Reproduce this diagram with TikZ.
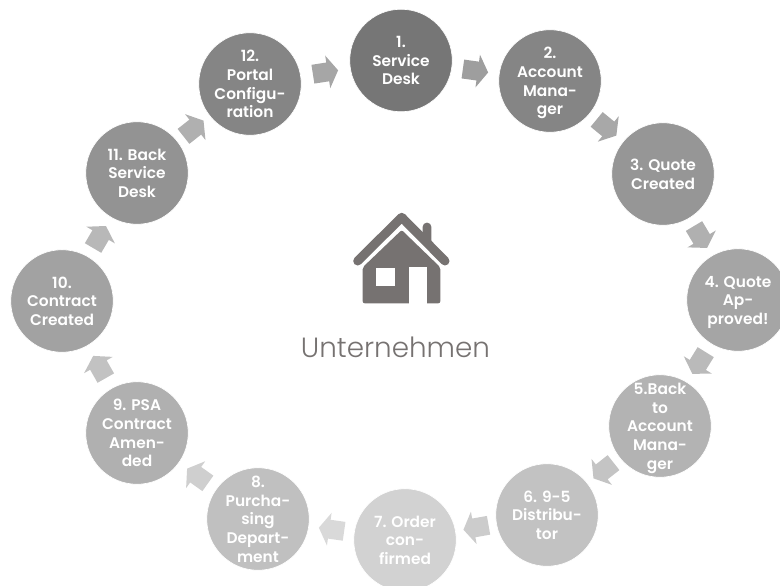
\documentclass[tikz,border=0pt]{standalone}
\usepackage{fontspec}
\usetikzlibrary{calc}
\newfontfamily\labelfont{Poppins SemiBold}
\newfontfamily\titlefont{Poppins Light}
\definecolor{house}{HTML}{767271}
\tikzset{
  stepcircle/.style={circle,draw=white,line width=0.6pt,minimum size=102.5pt,inner sep=0pt},
  steplabel/.style={inner sep=0pt,text=white,align=center,yshift=-2pt,font=\labelfont\fontsize{15.4}{18.7}\selectfont}
}
\newcommand{\stepnode}[4]{%
  \node[stepcircle,fill={rgb,255:red,#3;green,#3;blue,#3}] (n#1) at (#2) {};
  \node[steplabel] (l#1) at (n#1.center) {\strut #4\strut};}
\newcommand{\flowarrow}[3]{%
  \coordinate (m) at ($(#1)!0.5!(#2)$);
  \coordinate (t) at ($(m)!-12.75pt!(#2)$);
  \coordinate (s) at ($(m)!2.25pt!(#2)$);
  \coordinate (p) at ($(m)!12.75pt!(#2)$);
  \fill[#3] ($(t)!9.5pt!90:(#2)$) -- ($(s)!9.5pt!90:(#2)$) -- ($(s)!16.5pt!90:(#2)$) -- (p)
    -- ($(s)!16.5pt!-90:(#2)$) -- ($(s)!9.5pt!-90:(#2)$) -- ($(t)!9.5pt!-90:(#2)$) -- cycle;}
\begin{document}
\begin{tikzpicture}[x=1pt,y=-1pt]
\useasboundingbox (0,0) rectangle (780,586);
\clip (0,0) rectangle (780,586);
\stepnode{1}{401,60.5}{118}{1.\\Service\\Desk}
\stepnode{2}{550,81}{133}{2.\\Account\\Mana-\\ger}
\stepnode{3}{663,174}{150}{3. Quote\\Created}
\stepnode{4}{738,300}{165}{4. Quote\\Ap-\\proved!}
\stepnode{5}{660,426}{179}{5.Back\\to\\Account\\Mana-\\ger}
\stepnode{6}{547,515}{194}{6. 9-5\\Distribu-\\tor}
\stepnode{7}{405,540}{210}{7. Order\\con-\\firmed}
\stepnode{8}{258,519}{192}{8.\\Purcha-\\sing\\Depart-\\ment}
\stepnode{9}{137,433}{176}{9. PSA\\Contract\\Amen-\\ded}
\stepnode{10}{62,301}{162}{10.\\Contract\\Created}
\stepnode{11}{137,173}{147}{11. Back\\Service\\Desk}
\stepnode{12}{250,84}{133}{12.\\Portal\\Configu-\\ration}
\definecolor{a1}{gray}{0.62}\definecolor{a2}{gray}{0.66}\definecolor{a3}{gray}{0.69}
\definecolor{a4}{gray}{0.73}\definecolor{a5}{gray}{0.77}\definecolor{a6}{gray}{0.80}
\definecolor{a7}{gray}{0.85}\definecolor{a8}{gray}{0.81}\definecolor{a9}{gray}{0.76}
\definecolor{a10}{gray}{0.72}\definecolor{a11}{gray}{0.69}\definecolor{a12}{gray}{0.65}
\flowarrow{n1}{n2}{a1}
\flowarrow{n2}{n3}{a2}
\flowarrow{n3}{n4}{a3}
\flowarrow{n4}{n5}{a4}
\flowarrow{n5}{n6}{a5}
\flowarrow{n6}{n7}{a6}
\flowarrow{n7}{n8}{a7}
\flowarrow{n8}{n9}{a8}
\flowarrow{n9}{n10}{a9}
\flowarrow{n10}{n11}{a10}
\flowarrow{n11}{n12}{a11}
\flowarrow{n12}{n1}{a12}
% house
\fill[house,rounded corners=4pt] (422.7,245) -- (422.7,222.7) -- (431.3,222.7) -- (431.3,245) -- cycle;
\draw[house,line width=9pt,line cap=round,line join=round] (357.7,261) -- (401.7,217.3) -- (445,261);
\fill[house,rounded corners=2pt] (401.7,230) -- (362.7,267.3) -- (362.7,303.3) -- (440.3,303.3) -- (440.3,267.3) -- cycle;
\fill[white] (376.3,268) rectangle (394.7,285.7);
\fill[white] (409,267.3) rectangle (427,303.5);
\node[font=\titlefont\fontsize{27.8}{33}\selectfont,text=house,anchor=base,inner sep=0pt] (title) at (395.5,357) {Unternehmen};
\end{tikzpicture}
\end{document}
